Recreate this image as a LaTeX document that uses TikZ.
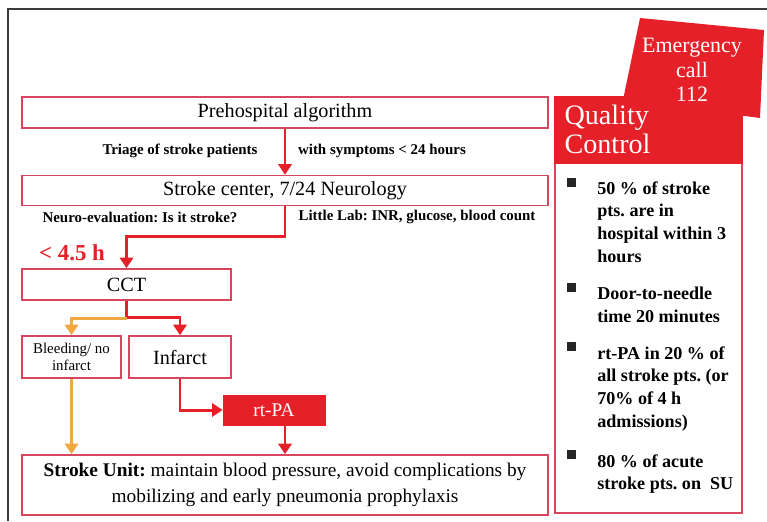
\documentclass[tikz,border=0pt]{standalone}
\usepackage{fontspec}
\setmainfont{Liberation Serif}
\usetikzlibrary{positioning,calc}
\usetikzlibrary{arrows.meta}
\frenchspacing

\definecolor{ctred}{RGB}{230,32,40}
\definecolor{ctedge}{RGB}{214,70,92}
\definecolor{ctorange}{RGB}{242,168,64}
\definecolor{framegray}{RGB}{60,60,60}

\tikzset{
   flowbox/.style={draw=ctedge, line width=0.9pt, inner sep=0pt, align=center,
      font=\fontsize{11.5}{14}\selectfont},
   widebox/.style={flowbox, minimum width=10.52cm},
   rtbox/.style={fill=ctred, draw=ctred, text=white, inner sep=0pt,
      minimum width=2.04cm, minimum height=0.6cm, font=\fontsize{11}{13}\selectfont},
   smalllabel/.style={inner sep=0pt, font=\bfseries\fontsize{8.5}{10}\selectfont},
   timelabel/.style={inner sep=0pt, text=ctred, font=\bfseries\fontsize{13}{15}\selectfont},
   redflow/.style={draw=ctred, line width=1.7pt, -{Triangle[length=6pt,width=7.5pt]}},
   orangeflow/.style={draw=ctorange, line width=1.7pt, -{Triangle[length=6pt,width=7.5pt]}},
   qcbox/.style={draw=ctedge, line width=0.9pt, inner sep=0pt},
   qctitle/.style={inner sep=0pt, text=white, align=left,
      font=\fontsize{16}{17}\selectfont},
   calltext/.style={inner sep=0pt, text=white, align=center,
      font=\fontsize{12.5}{14}\selectfont},
   qctext/.style={inner sep=0pt, align=left, font=\bfseries\fontsize{10.3}{12.9}\selectfont},
   bulletsq/.style={fill=black!85, inner sep=0pt, minimum size=0.18cm}
}

\begin{document}
\begin{tikzpicture}[x=0.02cm,y=-0.02cm]
   \useasboundingbox (0,0) rectangle (767,521);

   % scanned page frame
   \draw[framegray, line width=1.2pt] (767,9) -- (8,9) -- (8,521);

   % emergency call tab
   \fill[ctred] (640,18) -- (764,30) -- (760,118) -- (623,100) -- cycle;

   % quality control column
   \node[qcbox, minimum width=3.74cm, minimum height=8.32cm] (qc) at (648.5,305) {};
   \fill[ctred] (qc.north west) rectangle ($(qc.north east)+(0,68)$);
   \node[qctitle, anchor=north west] (qctitle) at ($(qc.north west)+(10,8)$)
      {Quality\\Control};
   \node[calltext] (call) at (692,70) {Emergency\\call\\112};

   \node[bulletsq] (b1) at (571,182) {};
   \node[qctext, anchor=north west] (q1) at (597,181)
      {50 \% of stroke\\pts. are in\\hospital within 3\\hours};
   \node[bulletsq] (b2) at (571,287) {};
   \node[qctext, anchor=north west] (q2) at (597,287)
      {Door-to-needle\\time 20 minutes};
   \node[bulletsq] (b3) at (571,346) {};
   \node[qctext, anchor=north west] (q3) at (597,346)
      {rt-PA in 20 \% of\\all stroke pts. (or\\70\% of 4 h\\admissions)};
   \node[bulletsq] (b4) at (571,454) {};
   \node[qctext, anchor=north west] (q4) at (597,454)
      {80 \% of acute\\stroke pts. on\ \ SU};

   % flow chart
   \node[widebox, minimum height=0.62cm] (pre) at (285,112.5) {Prehospital algorithm};
   \node[widebox, minimum height=0.6cm, below=0.92cm of pre] (center)
      {Stroke center, 7/24 Neurology};
   \node[flowbox, minimum width=4.18cm, minimum height=0.62cm] (cct) at (126.5,284.5) {CCT};
   \node[flowbox, minimum width=1.98cm, minimum height=0.84cm,
      font=\fontsize{8.5}{10}\selectfont] (bleed) at (71.5,357) {Bleeding/ no\\infarct};
   \node[flowbox, minimum width=2.04cm, minimum height=0.84cm] (infarct) at (180,357) {Infarct};
   \node[rtbox] (rtpa) at (274,410) {rt-PA};
   \node[widebox, minimum height=1.2cm, font=\fontsize{11}{14.7}\selectfont] (su) at (285,485)
      {\textbf{Stroke Unit:} maintain blood pressure, avoid complications by\\
       mobilizing and early pneumonia prophylaxis};

   % side labels
   \node[smalllabel] (triage) at (180,151) {Triage of stroke patients};
   \node[smalllabel] (symptoms) at (382,151) {with symptoms < 24 hours};
   \node[smalllabel] (neuro) at (140,217) {Neuro-evaluation: Is it stroke?};
   \node[smalllabel] (lab) at (417,217) {Little Lab: INR, glucose, blood count};
   \node[timelabel] (window) at (72,253) {< 4.5 h};

   % connectors
   \draw[redflow] (pre.south) -- (center.north);
   \draw[redflow] (center.south) |- ($(cct.north)+(0,-32)$) -- (cct.north);
   \draw[redflow] (cct.south) |- ($(infarct.north)+(0,-18)$) -- (infarct.north);
   \draw[orangeflow] ($(cct.south)+(0,18)$) -| (bleed.north);
   \draw[orangeflow] (bleed.south) -- (bleed.south |- su.north);
   \draw[redflow] (infarct.south) |- (rtpa.west);
   \draw[redflow] (rtpa.south -| su.north) -- (su.north);
\end{tikzpicture}
\end{document}
